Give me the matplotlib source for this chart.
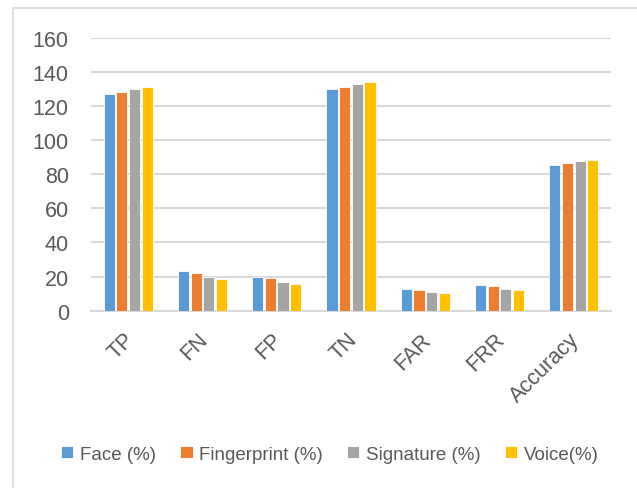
import matplotlib
matplotlib.use("Agg")
import matplotlib.pyplot as plt
from matplotlib.patches import Rectangle
from matplotlib.transforms import ScaledTranslation
import numpy as np

plt.rcParams['font.family'] = ['Liberation Sans', 'DejaVu Sans']

categories = ["TP", "FN", "FP", "TN", "FAR", "FRR", "Accuracy"]
series_names = ["Face (%)", "Fingerprint (%)", "Signature (%)", "Voice(%)"]
face = [127, 23, 20, 130, 13, 15, 85.5]
fingerprint = [128, 22, 19, 131, 12.3, 14.3, 86.3]
signature = [130, 20, 17, 133, 11, 13, 87.5]
voice = [131, 18.6, 15.6, 134, 10.4, 12.3, 88]
yticks = [0, 20, 40, 60, 80, 100, 120, 140, 160]

colors = ["#5B9BD5", "#ED7D31", "#A5A5A5", "#FFC000"]
text_color = "#595959"
grid_color = "#D9D9D9"

fig = plt.figure(figsize=(6.37, 4.89), dpi=100)
ax = fig.add_axes([91 / 637, 177.3 / 489, 520 / 637, (311.7 - 38.6) / 489])

x = np.arange(len(categories))
step = 0.171
width = 0.15
all_series = [face, fingerprint, signature, voice]
for i, (vals, name, c) in enumerate(zip(all_series, series_names, colors)):
    offs = (i - 1.5) * step
    ax.bar(x + offs, vals, width=width, color=c, edgecolor="white",
           linewidth=0.6, label=name, zorder=3)

ax.set_xlim(-0.5, len(categories) - 0.5)
ax.set_ylim(0, 160)
ax.set_yticks(yticks)
ax.yaxis.grid(True, color=grid_color, linewidth=1.5, zorder=0)
ax.set_axisbelow(True)
for side in ["top", "right", "left"]:
    ax.spines[side].set_visible(False)
ax.spines["bottom"].set_color(grid_color)
ax.spines["bottom"].set_linewidth(1.5)
ax.spines["bottom"].set_zorder(1)

ax.tick_params(axis="y", length=0, pad=16, labelsize=15.5, labelcolor=text_color)
ax.tick_params(axis="x", length=0, pad=13, labelsize=15.5, labelcolor=text_color)
ax.set_xticks(x)
ax.set_xticklabels(categories, rotation=45, ha="right", va="top",
                   rotation_mode="anchor")
shift = ScaledTranslation(-5 / 100, 0, fig.dpi_scale_trans)
for lbl in ax.get_xticklabels():
    lbl.set_transform(lbl.get_transform() + shift)

# chart border
fig.patches.append(Rectangle((13 / 637, -0.1), 1.2, 1.1 - 9 / 489,
                             transform=fig.transFigure, fill=False,
                             edgecolor=grid_color, linewidth=1.2))

fig.legend(loc="center", bbox_to_anchor=(0.518, 0.069), ncol=4, frameon=False,
           fontsize=13.5, labelcolor=text_color, handlelength=0.65,
           handleheight=0.65, handletextpad=0.35, columnspacing=1.3)

fig.savefig("out.png", dpi=100)
